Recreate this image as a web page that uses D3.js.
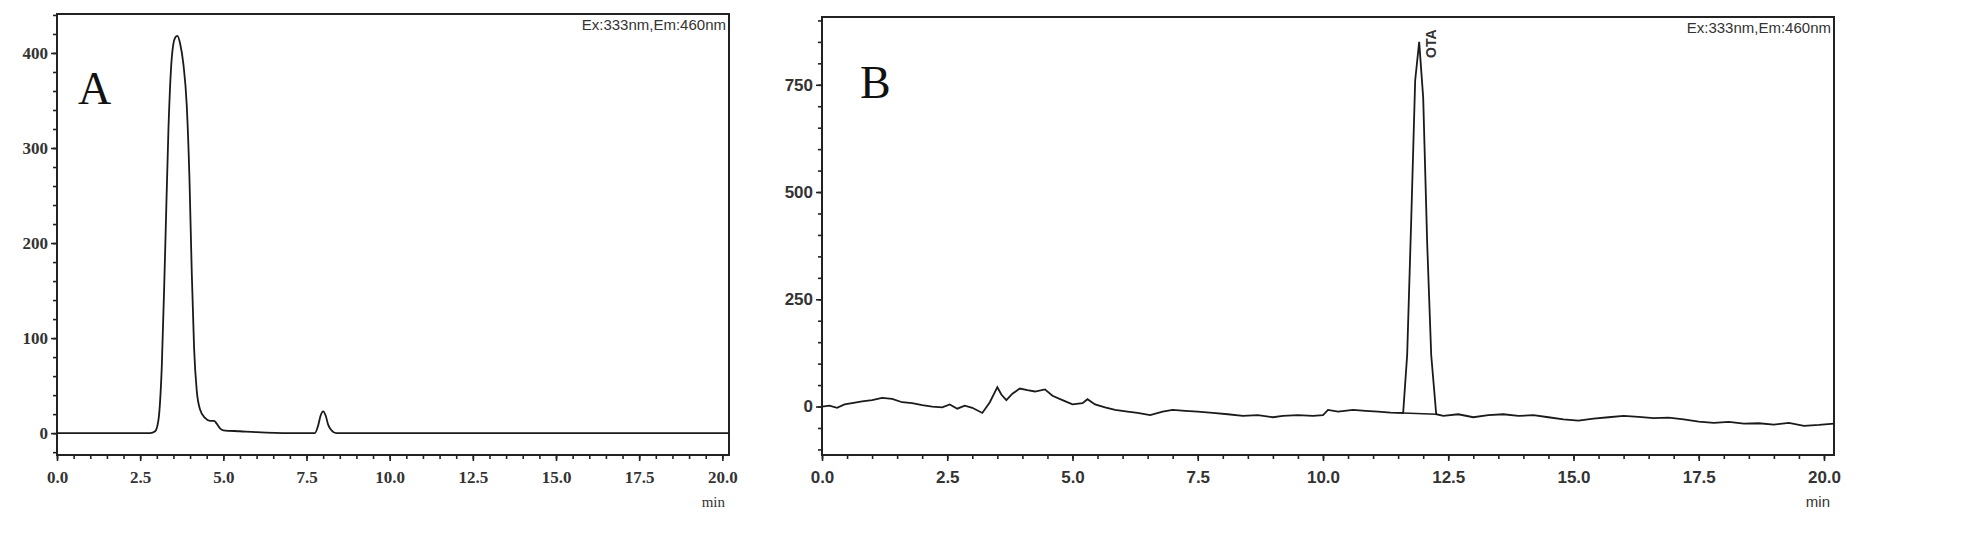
<!DOCTYPE html>
<html><head><meta charset="utf-8">
<script src="https://cdn.jsdelivr.net/npm/d3@7"></script>
<style>body{margin:0;background:#fff}</style>
</head><body>
<svg id="c" width="1979" height="559"></svg>
<script>
// panel A: retention time (min) / signal
var timeA = [0,1,2,2.8,2.95,3.05,3.15,3.25,3.35,3.45,3.55,3.62,3.7,3.8,3.9,3.98,4.05,4.12,4.2,4.3,4.45,4.6,4.72,4.8,4.9,5.0,5.5,6.0,7.0,7.75,7.85,7.92,8.0,8.08,8.15,8.25,8.4,10,15,20.2];
var sigA  = [0,0,0,0,2,14,70,190,320,395,416,418,410,388,345,270,170,90,45,25,16,13,13,10,5,3,2,1,0,0,8,18,23,18,9,3,0,0,0,0];
// panel B
var timeB = [0,0.15,0.3,0.45,0.6,0.8,1.0,1.2,1.4,1.6,1.8,2.0,2.2,2.4,2.55,2.7,2.85,3.0,3.2,3.35,3.5,3.58,3.68,3.8,3.95,4.1,4.25,4.45,4.6,4.8,5.0,5.2,5.3,5.45,5.65,5.85,6.1,6.3,6.55,6.8,7.0,7.25,7.5,7.8,8.1,8.4,8.7,9.0,9.2,9.5,9.8,10.0,10.1,10.3,10.6,10.85,11.1,11.35,11.6,11.68,11.76,11.84,11.92,12.0,12.08,12.16,12.26,12.4,12.7,13.0,13.3,13.6,13.9,14.2,14.5,14.8,15.1,15.4,15.7,16.0,16.3,16.6,16.9,17.2,17.5,17.8,18.1,18.4,18.7,19.0,19.3,19.6,19.9,20.2];
var sigB  = [0,2,-3,5,8,12,15,20,18,10,8,3,0,-2,5,-5,2,-3,-15,10,45,28,15,30,42,38,35,40,25,15,5,8,17,5,-2,-8,-12,-15,-20,-12,-8,-10,-12,-15,-18,-22,-20,-25,-22,-20,-22,-20,-8,-12,-8,-10,-12,-14,-15,120,430,760,850,720,380,120,-18,-22,-18,-25,-20,-18,-22,-20,-25,-30,-33,-28,-25,-22,-24,-27,-26,-30,-35,-38,-36,-40,-39,-42,-38,-45,-43,-40];
var ticksX = [0,2.5,5,7.5,10,12.5,15,17.5,20];
var ticksYA = [0,100,200,300,400];
var ticksYB = [0,250,500,750];

var svg = d3.select("#c");

function panel(o){
    var x = d3.scaleLinear().domain([0,20.2]).range([o.x0,o.x1]);
    var y = d3.scaleLinear().domain(o.yd).range([o.y1,o.y0]);
    var g = svg.append("g");
    g.append("rect").attr("x",o.x0).attr("y",o.y0).attr("width",o.x1-o.x0).attr("height",o.y1-o.y0)
        .attr("fill","none").attr("stroke","#222").attr("stroke-width",2);
    var ax = g.append("g").attr("transform","translate(0,"+o.y1+")")
        .call(d3.axisBottom(x).tickValues(ticksX).tickFormat(d3.format(".1f")).tickSize(6));
    g.append("g").attr("transform","translate(0,"+o.y1+")")
        .call(d3.axisBottom(x).tickValues(d3.range(0,20.01,0.5)).tickFormat("").tickSize(4));
    g.append("g").attr("transform","translate("+o.x0+",0)")
        .call(d3.axisLeft(y).tickValues(o.yt).tickSize(6));
    g.append("g").attr("transform","translate("+o.x0+",0)")
        .call(d3.axisLeft(y).tickValues(d3.range(-Math.floor(-o.yd[0]/o.ym)*o.ym,o.yd[1],o.ym)).tickFormat("").tickSize(4));
    g.selectAll(".domain").remove();
    g.selectAll(".tick line").attr("stroke","#222").attr("stroke-width",1.6);
    g.selectAll(".tick text").attr("font-family",o.font).attr("font-size",17).attr("font-weight","bold").attr("fill","#333");
    ax.selectAll(".tick text").attr("dy","1.1em");
    var line = d3.line().x(function(d){return x(d[0]);}).y(function(d){return y(d[1]);}).curve(o.curve);
    g.append("path").datum(o.t.map(function(t,i){return [t,o.s[i]];}))
        .attr("d",line).attr("fill","none").attr("stroke","#1a1a1a").attr("stroke-width",1.8);
    g.append("text").attr("x",o.x1-3).attr("y",o.y0+16).attr("text-anchor","end")
        .attr("font-family","Liberation Sans Narrow, Liberation Sans").attr("font-size",15).attr("fill","#333").text("Ex:333nm,Em:460nm");
    g.append("text").attr("x",o.x1-4).attr("y",o.y1+52).attr("text-anchor","end")
        .attr("font-family",o.font).attr("font-size",15).attr("fill","#333").text("min");
    g.append("text").attr("x",o.lx).attr("y",o.ly).attr("font-family","Liberation Serif").attr("font-size",46).attr("fill","#111").text(o.label);
    return {x:x,y:y,g:g};
}

panel({x0:57,x1:729,y0:14,y1:455,yd:[-23,441],yt:ticksYA,ym:20,t:timeA,s:sigA,font:"Liberation Serif",curve:d3.curveMonotoneX,label:"A",lx:78,ly:104});
var pb = panel({x0:822,x1:1834,y0:17,y1:455,yd:[-113,908],yt:ticksYB,ym:50,t:timeB,s:sigB,font:"Liberation Sans",curve:d3.curveLinear,label:"B",lx:860,ly:98});
// baseline drawn under OTA peak
pb.g.append("line").attr("x1",pb.x(11.6)).attr("y1",pb.y(-15)).attr("x2",pb.x(12.26)).attr("y2",pb.y(-18))
    .attr("stroke","#1a1a1a").attr("stroke-width",1.5);
pb.g.append("text").attr("transform","translate("+(pb.x(11.92)+17)+",58) rotate(-90)")
    .attr("text-anchor","start").attr("font-family","Liberation Sans").attr("font-weight","bold").attr("font-size",14).attr("fill","#333").text("OTA");
</script>
</body></html>
